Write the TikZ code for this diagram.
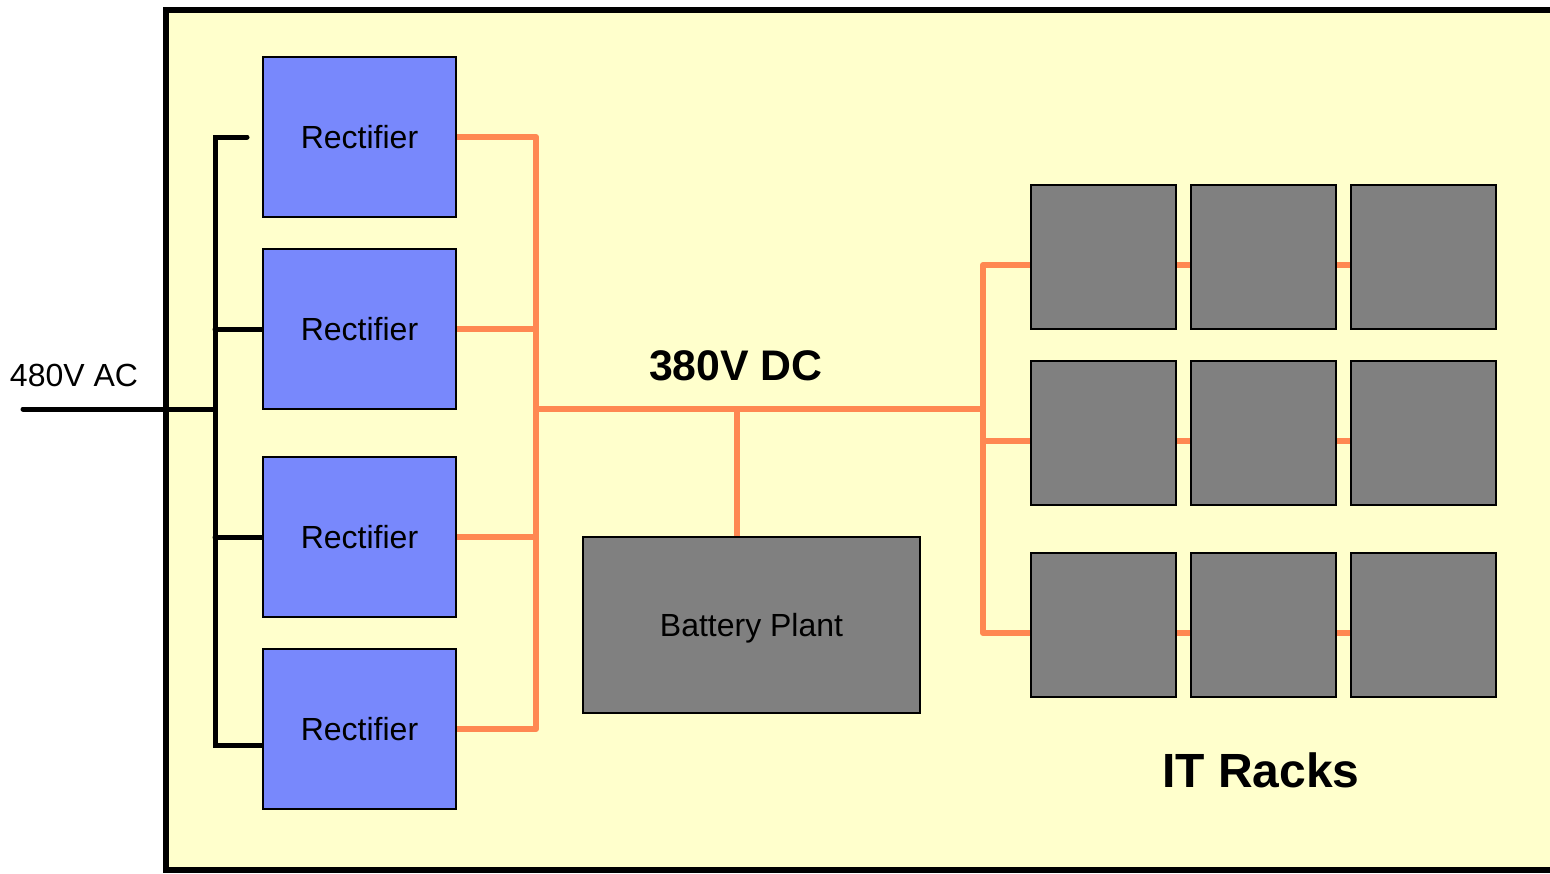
\documentclass[tikz,border=0pt]{standalone}
\usepackage{fontspec}
\setmainfont{Liberation Sans}
\usepackage{tikz}
\usepackage{xcolor}
\usetikzlibrary{positioning,calc,backgrounds}
\definecolor{RoomYellow}{HTML}{FFFFCC}
\definecolor{RectBlue}{HTML}{7888FC}
\definecolor{RackGray}{HTML}{808080}
\definecolor{DCOrange}{HTML}{FF8852}
\definecolor{LineBlack}{HTML}{000000}
\tikzset{
    % Base box style
    basenode/.style={
        draw=LineBlack,
        line width=1pt,
        inner sep=0pt,
        text depth=0pt,
        align=center,
        font=\fontsize{16}{19}\selectfont
    },
    % Rectifier style
    rectnode/.style={
        basenode,
        fill=RectBlue,
        minimum width=96.5pt,
        minimum height=80pt
    },
    % Battery style
    batterynode/.style={
        basenode,
        fill=RackGray,
        minimum width=168.5pt,
        minimum height=88pt
    },
    % IT rack style
    racknode/.style={
        basenode,
        fill=RackGray,
        minimum width=72.5pt,
        minimum height=72pt
    },
    % DC bus (orange)
    dcline/.style={
        draw=DCOrange,
        line width=3pt,
        line join=round
    },
    % AC feed (black)
    acline/.style={
        draw=LineBlack,
        line width=2.5pt,
        line cap=round
    },
    % Big labels
    biglabel/.style={
        font=\bfseries\fontsize{21.4}{25}\selectfont
    }
}

\begin{document}
\begin{tikzpicture}[x=0.5pt, y=-0.5pt]
        \useasboundingbox (0,0) rectangle (1550,873);

        % Rectifiers
        \node[rectnode] (r1) at (359.5,137) {Rectifier};
        \node[rectnode] (r2) at (359.5,329) {Rectifier};
        \node[rectnode] (r3) at (359.5,537) {Rectifier};
        \node[rectnode] (r4) at (359.5,729) {Rectifier};

        % Battery plant
        \node[batterynode] (bat) at (751.5,625) {Battery Plant};

        % IT racks
        \node[racknode] (k11) at (1103.5,257) {};
        \node[racknode] (k12) at (1263.5,257) {};
        \node[racknode] (k13) at (1423.5,257) {};
        \node[racknode] (k21) at (1103.5,433) {};
        \node[racknode] (k22) at (1263.5,433) {};
        \node[racknode] (k23) at (1423.5,433) {};
        \node[racknode] (k31) at (1103.5,625) {};
        \node[racknode] (k32) at (1263.5,625) {};
        \node[racknode] (k33) at (1423.5,625) {};

        % Labels
        \node[font=\fontsize{16}{19}\selectfont] (aclabel) at (74,375) {480V AC};
        \node[biglabel] (dclabel) at (736,366) {380V DC};
        \node[biglabel, font=\bfseries\fontsize{24}{28}\selectfont] (itlabel) at (1261,770) {IT Racks};

        % Bus points
        \coordinate (acin) at (23,409);
        \coordinate (acbus) at (215,409);
        \coordinate (busL) at (536,409);
        \coordinate (busB) at (737,409);
        \coordinate (busR) at (983,409);
        \coordinate (t1) at ([yshift=-4pt]k11.west);
        \coordinate (t2) at ([yshift=-4pt]k21.west);
        \coordinate (t3) at ([yshift=-4pt]k31.west);

        \begin{scope}[on background layer]
            % Room
            \fill[RoomYellow] (166,10) rectangle (1560,870);
            \draw[LineBlack, line width=3.3pt] (1560,10) -- (166,10) -- (166,870) -- (1560,870);

            % AC feed
            \draw[acline] (acin) -- (acbus);
            \draw[acline] ([xshift=-7.5pt]r1.west) -- (r1.west -| acbus)
                -- ([yshift=-8pt]r4.west -| acbus) -- ([yshift=-8pt]r4.west);
            \draw[acline] (r2.west -| acbus) -- (r2.west);
            \draw[acline] (r3.west -| acbus) -- (r3.west);

            % DC bus
            \draw[dcline] (r1.east) -- (r1.east -| busL) -- (r4.east -| busL) -- (r4.east);
            \draw[dcline] (r2.east) -- (r2.east -| busL);
            \draw[dcline] (r3.east) -- (r3.east -| busL);
            \draw[dcline] (busL) -- (busR);
            \draw[dcline] (busB) -- (busB |- bat.north);
            \draw[dcline] (t1 -| k13.west) -- (t1 -| busR) -- (t3 -| busR) -- (t3 -| k33.west);
            \draw[dcline] (t2 -| busR) -- (t2 -| k23.west);
        \end{scope}
    \end{tikzpicture}
\end{document}
